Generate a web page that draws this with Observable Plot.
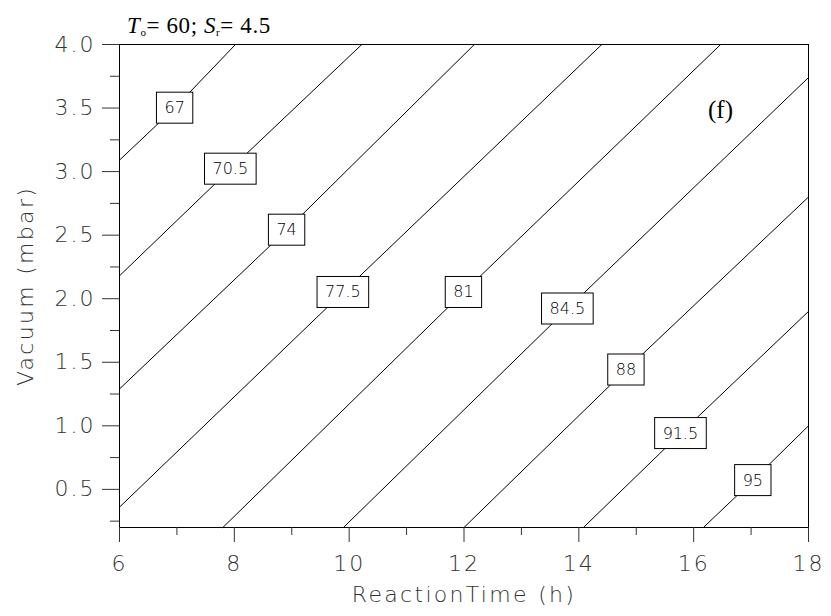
<!DOCTYPE html>
<html>
<head>
<meta charset="utf-8">
<script src="https://cdn.jsdelivr.net/npm/d3@7"></script>
<script src="https://cdn.jsdelivr.net/npm/@observablehq/plot@0.6"></script>
<style>
  html, body { margin: 0; padding: 0; background: #fff; }
  #chart { width: 831px; height: 616px; }
  #chart svg g[aria-label$="tick label"] text { letter-spacing: 2px; }
  #chart svg .axis-title { letter-spacing: 2.3px; }
</style>
</head>
<body>
<div id="chart"></div>
<script>
// Contour levels (yield) and each contour's polyline
const levels = [67, 70.5, 74, 77.5, 81, 84.5, 88, 91.5, 95];
const startT = [6, 6, 6, 6, 7.8, 9.9, 12.0, 14.08, 16.17];
const startV = [3.09, 2.18, 1.29, 0.36, 0.2, 0.2, 0.2, 0.2, 0.2];
const labelT = [6.96, 7.93, 8.91, 9.89, 11.99, 13.80, 14.82, 15.77, 17.03];
const labelV = [3.50, 3.02, 2.54, 2.05, 2.05, 1.92, 1.44, 0.94, 0.57];
const endT = [8.02, 10.22, 12.18, 14.4, 16.47, 18, 18, 18, 18];
const endV = [4.0, 4.0, 4.0, 4.0, 4.0, 3.74, 2.80, 1.90, 1.00];

const xTicks = [6, 8, 10, 12, 14, 16, 18];
const xMinor = [7, 9, 11, 13, 15, 17];
const yTicks = [0.5, 1.0, 1.5, 2.0, 2.5, 3.0, 3.5, 4.0];
const yMinor = [0.25, 0.75, 1.25, 1.75, 2.25, 2.75, 3.25, 3.75];

const rows = [];
levels.forEach((lv, i) => {
  rows.push({level: lv, t: startT[i], v: startV[i]});
  rows.push({level: lv, t: labelT[i], v: labelV[i]});
  rows.push({level: lv, t: endT[i], v: endV[i]});
});
const labels = levels.map((lv, i) => ({level: lv, t: labelT[i], v: labelV[i]}));

const FONT = "'DejaVu Sans', sans-serif";

const plot = Plot.plot({
  width: 831,
  height: 616,
  marginLeft: 119,
  marginRight: 23,
  marginTop: 44,
  marginBottom: 89,
  style: {fontFamily: FONT, background: "#fff", color: "#333"},
  x: {domain: [6, 18]},
  y: {domain: [0.2, 4.0]},
  marks: [
    Plot.line(rows, {x: "t", y: "v", z: "level", stroke: "#000", strokeWidth: 1}),
    Plot.frame({stroke: "#000", strokeWidth: 1}),
    Plot.axisX({ticks: xTicks, tickSize: 15, tickPadding: 13, fontSize: 22, fontWeight: 200, label: null, stroke: "#333"}),
    Plot.axisX({ticks: xMinor, tickSize: 8, tickFormat: () => "", label: null, stroke: "#333"}),
    Plot.axisY({ticks: yTicks, tickSize: 17, tickPadding: 7, fontSize: 22, fontWeight: 200, tickFormat: d3.format(".1f"), label: null, stroke: "#333"}),
    Plot.axisY({ticks: yMinor, tickSize: 9, tickFormat: () => "", label: null, stroke: "#333"}),
    Plot.text(labels, {x: "t", y: "v", text: d => String(d.level), fontSize: 16, fontWeight: 200, fill: "#000"}),
    Plot.text(["ReactionTime (h)"], {frameAnchor: "bottom", textAnchor: "middle", dy: 74, fontSize: 22, fontWeight: 200, fill: "#333"}),
    Plot.text(["Vacuum (mbar)"], {frameAnchor: "left", textAnchor: "middle", dx: -94, rotate: -90, fontSize: 22, fontWeight: 200, fill: "#333"}),
    Plot.text(["(f)"], {frameAnchor: "top-right", textAnchor: "middle", dx: -88, dy: 56, fontSize: 25, fontFamily: "'Liberation Serif', 'Times New Roman', serif", fill: "#000"})
  ]
});

document.getElementById("chart").appendChild(plot);

const svg = d3.select(plot);
const textGroups = plot.querySelectorAll('g[aria-label="text"]');
// axis titles get wider letter spacing (second and third text marks)
[textGroups[1], textGroups[2]].forEach(g => g && g.querySelectorAll("text").forEach(t => t.classList.add("axis-title")));

// white boxes behind contour labels (first text mark = contour labels)
d3.select(textGroups[0]).selectAll("text").each(function () {
  const bb = this.getBBox();
  const cy = bb.y + bb.height / 2;
  this.parentNode.insertBefore(
    d3.create("svg:rect")
      .attr("x", bb.x - 8).attr("y", cy - 15.5)
      .attr("width", bb.width + 16).attr("height", 31)
      .attr("fill", "#fff").attr("stroke", "#000").attr("stroke-width", 1)
      .attr("transform", this.getAttribute("transform"))
      .node(),
    this);
});

// title above the frame
const title = svg.append("text")
  .attr("x", 127).attr("y", 33)
  .attr("text-anchor", "start")
  .attr("font-family", "'Liberation Serif', 'Times New Roman', serif")
  .attr("font-size", 23).attr("letter-spacing", "0.6px").attr("fill", "#000");
title.append("tspan").attr("font-style", "italic").text("T");
title.append("tspan").attr("font-size", 11).attr("dy", 3).text("o");
title.append("tspan").attr("dy", -3).text("= 60; ");
title.append("tspan").attr("font-style", "italic").text("S");
title.append("tspan").attr("font-size", 11).attr("dy", 3).text("r");
title.append("tspan").attr("dy", -3).text("= 4.5");
</script>
</body>
</html>
